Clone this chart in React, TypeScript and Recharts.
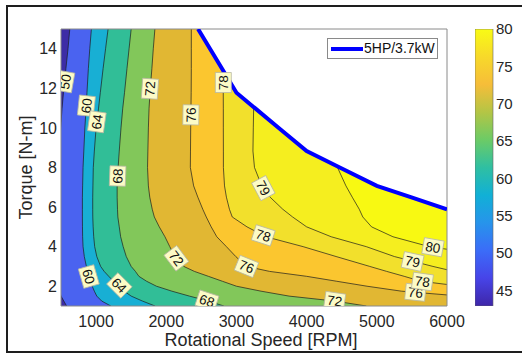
import React from 'react';
import {
  ComposedChart,
  Area,
  Line,
  Scatter,
  Bar,
  XAxis,
  YAxis,
  CartesianGrid,
  Legend,
} from 'recharts';

// torque grid (N-m) the contour lines are sampled on
const torque = [1, 1.25, 1.5, 1.75, 2, 2.25, 2.5, 2.75, 3, 3.5, 4, 4.5, 5, 5.5, 5.89, 6.5, 7.07, 8, 8.83, 10, 11, 11.78, 13, 14, 15];

// rpm of each efficiency contour at the torque grid
const eff50 = [580, 540, 500, 480, 470, 470, 470, 470, 470, 470, 470, 470, 470, 470, 470, 470, 470, 472, 478, 495, 515, 535, 570, 600, 625];
const eff60 = [1210, 1080, 1010, 975, 945, 918, 895, 878, 862, 832, 814, 808, 806, 805, 805, 805, 808, 814, 825, 840, 858, 870, 890, 910, 933];
const eff64 = [1840, 1660, 1500, 1400, 1320, 1250, 1180, 1115, 1065, 1010, 980, 966, 958, 953, 952, 952, 955, 960, 975, 1000, 1035, 1060, 1100, 1135, 1171];
const eff68 = [2820, 2600, 2330, 2080, 1860, 1720, 1610, 1560, 1500, 1430, 1386, 1350, 1330, 1310, 1305, 1300, 1300, 1314, 1330, 1355, 1380, 1405, 1440, 1470, 1500];
const eff72 = [4850, 4400, 3750, 3350, 3000, 2800, 2600, 2400, 2250, 2120, 2050, 1981, 1900, 1830, 1800, 1765, 1745, 1733, 1738, 1745, 1755, 1768, 1795, 1815, 1838];
const eff76 = [8000, 7000, 6200, 5350, 4860, 4430, 4000, 3471, 3143, 2990, 2857, 2720, 2640, 2570, 2520, 2450, 2390, 2343, 2345, 2348, 2352, 2355, 2357, 2357, 2357];
const eff78 = [8400, 8000, 7600, 7000, 6200, 5630, 5390, 5140, 4900, 4420, 3950, 3420, 3150, 2940, 2900, 2857, 2830, 2814, 2814, 2813, 2813, 2812, 2810, 2810, 2810];
const eff79 = [9500, 9000, 8500, 8000, 7500, 7000, 6500, 6100, 5800, 5250, 4850, 4350, 4000, 3800, 3660, 3480, 3360, 3257, 3235, 3240, 3245, 3240, 3240, 3240, 3240];
const eff80 = [10000, 9700, 9400, 9100, 8800, 8400, 8000, 7600, 7300, 6700, 5750, 5230, 4925, 4800, 4750, 4650, 4560, 4440, 4420, 4420, 4420, 4420, 4420, 4420, 4420];

// 5HP / 3.7kW limit, rpm at the torque grid
const powerRpm = [null, null, null, null, null, null, null, null, null, null, null, null, null, null, 6000, 5483, 5000, 4472, 4000, 3603, 3264, 3000, 2793, 2623, 2453];

const rpmTicks = [1000, 2000, 3000, 4000, 5000, 6000];
const torqueTicks = [2, 4, 6, 8, 10, 12, 14];

// contour labels
const labelText = ['50', '60', '64', '72', '76', '78', '68', '60', '64', '72', '68', '76', '78', '79', '72', '76', '78', '79', '80'];
const labelRpm = [560, 862, 1011, 1768, 2351, 2812, 1307, 896, 1331, 2143, 2580, 3143, 3382, 3383, 4400, 5550, 5650, 5510, 5800];
const labelTorque = [12.34, 11.12, 10.31, 11.98, 10.66, 12.29, 7.57, 2.49, 2.04, 3.41, 1.27, 3.0, 4.57, 6.96, 1.27, 1.69, 2.24, 3.25, 3.97];
const labelAngle = [-80, -84, -82, -86, -89, -90, -88, 74, 45, 53, 18, 22, 18, 62, 8, 6, 8, 12, 10];

// colour bar
const cbRange = [42.9, 80];
const cbTicks = [45, 50, 55, 60, 65, 70, 75, 80];

const parulaStops = [
  ['0%', '#3e26a8'],
  ['10%', '#4744e8'],
  ['20%', '#3b6cf8'],
  ['30%', '#2794eb'],
  ['40%', '#11b0d6'],
  ['50%', '#2fbfa2'],
  ['60%', '#6ccb66'],
  ['70%', '#b4c545'],
  ['80%', '#f6bd39'],
  ['90%', '#f7d92a'],
  ['100%', '#f9fb15'],
];

const contours = [
  { key: 'c80', fill: '#f5ee1f' },
  { key: 'c79', fill: '#f2e02c' },
  { key: 'c78', fill: '#fbc62f' },
  { key: 'c76', fill: '#e1b733' },
  { key: 'c72', fill: '#82c75a' },
  { key: 'c68', fill: '#31be97' },
  { key: 'c64', fill: '#18afd4' },
  { key: 'c60', fill: '#4a63f0' },
  { key: 'c50', fill: '#3d2ca6' },
];

const rows = torque.map((t, i) => ({
  t,
  c50: eff50[i],
  c60: eff60[i],
  c64: eff64[i],
  c68: eff68[i],
  c72: eff72[i],
  c76: eff76[i],
  c78: eff78[i],
  c79: eff79[i],
  c80: eff80[i],
  power: powerRpm[i],
}));

const labelPoints = labelText.map((text, i) => ({
  text,
  rpm: labelRpm[i],
  t: labelTorque[i],
  angle: labelAngle[i],
}));

const cbRows = [{ name: 'eff', range: cbRange }];

const font = '"Liberation Sans", Arial, Helvetica, sans-serif';
const textColor = '#262626';
const boxColor = '#8a8a8a';

const ContourTag = (props: any) => {
  const { cx, cy, payload } = props;
  if (cx == null || cy == null) return null;
  return (
    <g transform={`translate(${cx},${cy}) rotate(${payload.angle})`}>
      <rect x={-10} y={-8} width={20} height={16} fill="#fcfbc6" stroke="#b8b8a4" strokeWidth={0.8} />
      <text x={0} y={0} dy="0.36em" textAnchor="middle" fontSize={13.5} fill="#111" fontFamily={font}>
        {payload.text}
      </text>
    </g>
  );
};

const PowerLegend = (props: any) => {
  const item = (props.payload || []).find((p: any) => p.dataKey === 'power');
  if (!item) return null;
  return (
    <div
      style={{
        position: 'relative',
        width: 111,
        height: 21,
        boxSizing: 'border-box',
        border: `1px solid ${boxColor}`,
        background: '#fff',
      }}
    >
      <svg width={40} height={19} style={{ position: 'absolute', left: 0, top: 0 }}>
        <line x1={3} x2={35} y1={10} y2={10} stroke={item.color} strokeWidth={4} />
      </svg>
      <span
        style={{
          position: 'absolute',
          left: 36,
          top: 1,
          fontSize: 14,
          lineHeight: '17px',
          color: '#111',
          whiteSpace: 'nowrap',
          fontFamily: font,
        }}
      >
        {item.value}
      </span>
    </div>
  );
};

export default function App() {
  return (
    <div
      style={{
        position: 'absolute',
        left: 0,
        top: 0,
        width: 522,
        height: 356,
        overflow: 'hidden',
        background: '#fff',
        fontFamily: font,
      }}
    >
      <div
        style={{
          position: 'absolute',
          left: 6,
          top: 5,
          width: 540,
          height: 348,
          border: '2px solid #1e1e1e',
          boxSizing: 'border-box',
        }}
      />

      <div style={{ position: 'absolute', left: 0, top: 0 }}>
        <ComposedChart
          width={472}
          height={356}
          data={rows}
          layout="vertical"
          margin={{ top: 29, right: 25, bottom: 0, left: -9 }}
        >
          <CartesianGrid horizontal={false} vertical={false} fill="#f8f912" fillOpacity={1} />
          <XAxis
            type="number"
            dataKey="rpm"
            domain={[500, 6000]}
            ticks={rpmTicks}
            allowDataOverflow
            height={50}
            tickSize={0}
            tickMargin={10}
            tick={{ fill: textColor, fontSize: 16 }}
            axisLine={{ stroke: boxColor }}
            label={{
              value: 'Rotational Speed [RPM]',
              position: 'insideBottom',
              offset: 10,
              dx: 7,
              fill: textColor,
              fontSize: 18,
            }}
          />
          <XAxis
            xAxisId="top"
            orientation="top"
            type="number"
            domain={[500, 6000]}
            ticks={rpmTicks}
            allowDataOverflow
            mirror
            tick={false}
            tickSize={4}
            tickLine={{ stroke: boxColor }}
            axisLine={{ stroke: boxColor }}
          />
          <XAxis
            xAxisId="bottomIn"
            orientation="bottom"
            type="number"
            domain={[500, 6000]}
            ticks={rpmTicks}
            allowDataOverflow
            mirror
            tick={false}
            tickSize={4}
            tickLine={{ stroke: boxColor }}
            axisLine={false}
          />
          <YAxis
            type="number"
            dataKey="t"
            domain={[1, 15]}
            ticks={torqueTicks}
            reversed
            allowDataOverflow
            width={70}
            tickSize={0}
            tickMargin={4}
            tick={{ fill: textColor, fontSize: 16 }}
            axisLine={{ stroke: boxColor }}
            label={{
              value: 'Torque [N-m]',
              angle: -90,
              position: 'center',
              fill: textColor,
              fontSize: 18,
            }}
          />
          <YAxis
            yAxisId="right"
            orientation="right"
            type="number"
            domain={[1, 15]}
            ticks={torqueTicks}
            reversed
            allowDataOverflow
            mirror
            tick={false}
            tickSize={4}
            tickLine={{ stroke: boxColor }}
            axisLine={{ stroke: boxColor }}
          />
          <YAxis
            yAxisId="leftIn"
            orientation="left"
            type="number"
            domain={[1, 15]}
            ticks={torqueTicks}
            reversed
            allowDataOverflow
            mirror
            tick={false}
            tickSize={4}
            tickLine={{ stroke: boxColor }}
            axisLine={false}
          />

          {contours.map((c) => (
            <Area
              key={c.key}
              dataKey={c.key}
              type="linear"
              baseValue="dataMin"
              fill={c.fill}
              fillOpacity={1}
              stroke="#1c1c1c"
              strokeWidth={0.7}
              legendType="none"
              isAnimationActive={false}
            />
          ))}

          <Area
            dataKey="power"
            type="linear"
            baseValue={6000}
            fill="#ffffff"
            fillOpacity={1}
            stroke="none"
            legendType="none"
            zIndex={450}
            isAnimationActive={false}
          />
          <Line
            dataKey="power"
            name="5HP/3.7kW"
            type="linear"
            stroke="#0000ff"
            strokeWidth={4}
            dot={false}
            activeDot={false}
            zIndex={500}
            isAnimationActive={false}
          />
          <Scatter
            data={labelPoints}
            shape={ContourTag}
            legendType="none"
            zIndex={700}
            isAnimationActive={false}
          />
          <Legend
            layout="vertical"
            align="center"
            verticalAlign="middle"
            wrapperStyle={{ left: 327, top: 38, width: 'auto' }}
            content={PowerLegend}
          />
        </ComposedChart>
      </div>

      <div style={{ position: 'absolute', left: 475, top: 0 }}>
        <ComposedChart
          width={60}
          height={356}
          data={cbRows}
          barCategoryGap={0}
          margin={{ top: 29, right: 0, bottom: 50, left: 0 }}
        >
          <defs>
            <linearGradient id="parula" x1="0" y1="1" x2="0" y2="0">
              {parulaStops.map(([offset, color]) => (
                <stop key={offset} offset={offset} stopColor={color} />
              ))}
            </linearGradient>
          </defs>
          <XAxis dataKey="name" type="category" hide />
          <YAxis
            orientation="right"
            type="number"
            domain={cbRange}
            ticks={cbTicks}
            allowDataOverflow
            width={42}
            tickSize={0}
            tickMargin={3}
            axisLine={false}
            tick={{ fill: textColor, fontSize: 15 }}
          />
          <YAxis
            yAxisId="in"
            orientation="right"
            type="number"
            domain={cbRange}
            ticks={cbTicks}
            allowDataOverflow
            mirror
            tick={false}
            tickSize={3}
            tickLine={{ stroke: '#444' }}
            axisLine={false}
          />
          <Bar dataKey="range" fill="url(#parula)" stroke="#666" strokeWidth={0.6} isAnimationActive={false} />
        </ComposedChart>
      </div>
    </div>
  );
}
